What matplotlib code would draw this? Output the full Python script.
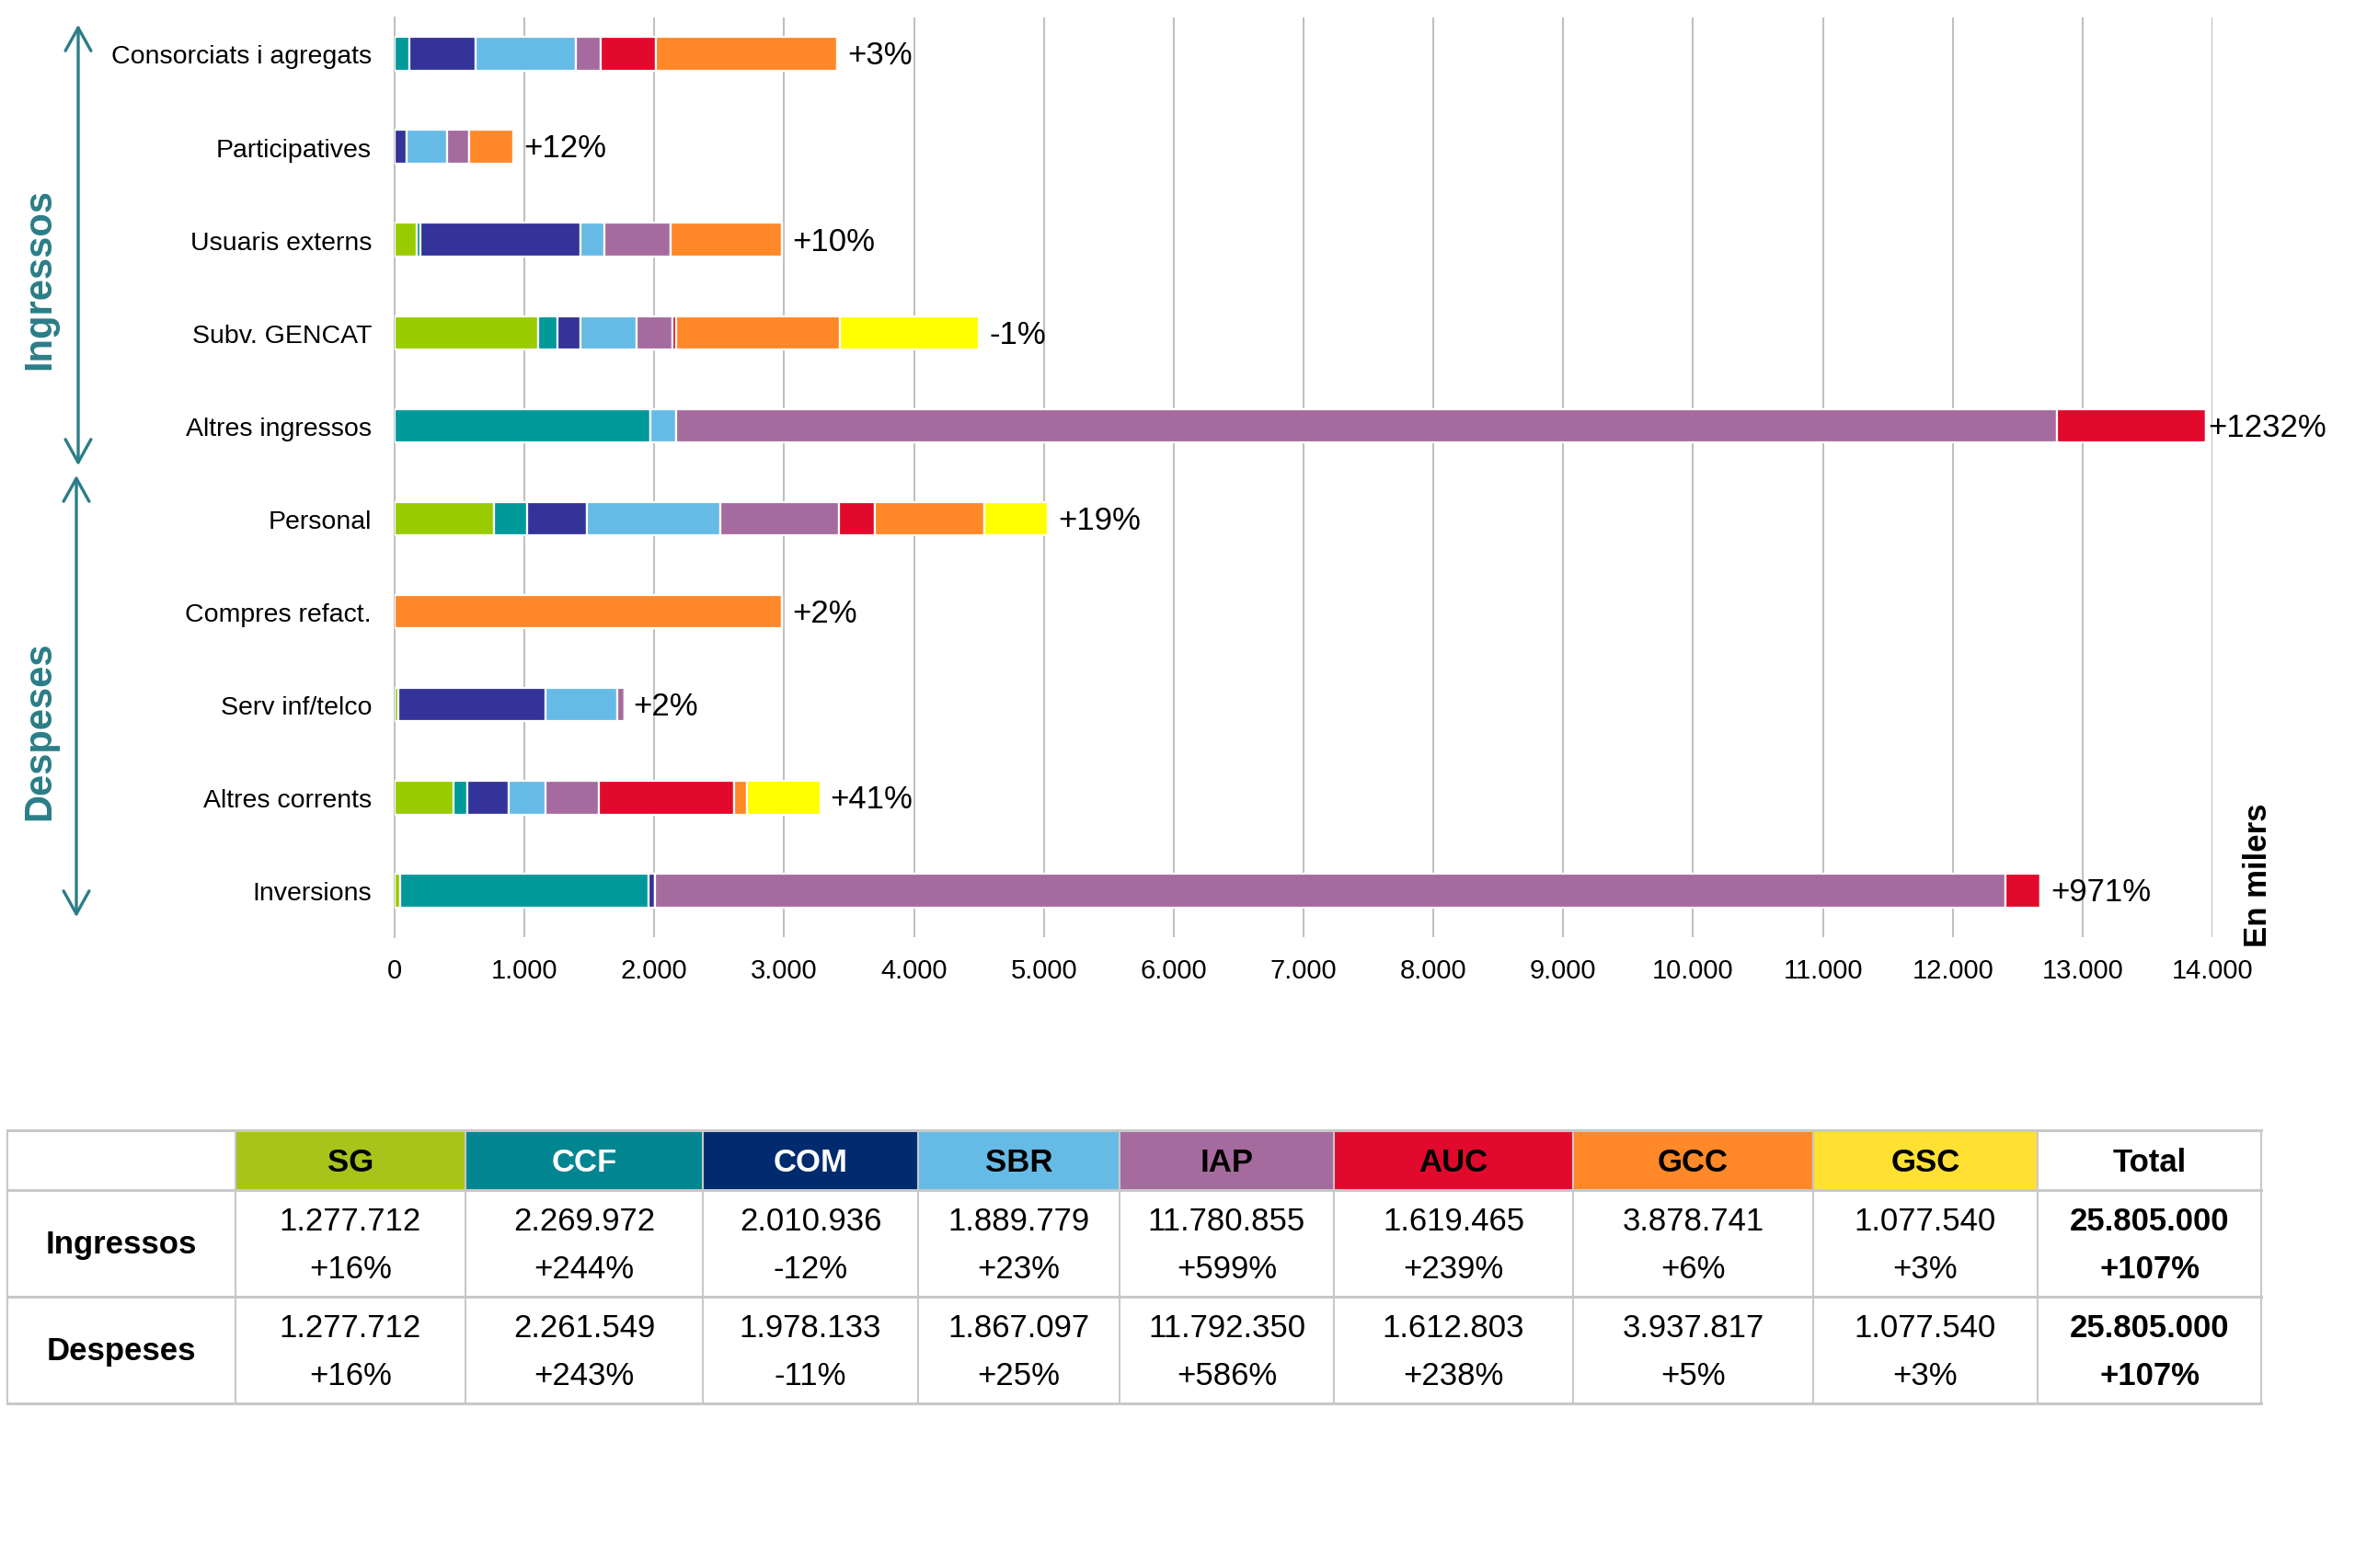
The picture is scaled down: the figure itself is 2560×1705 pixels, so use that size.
#! /usr/bin/env python3

"""
Ingressos i despeses per centre (en milers), barres apilades + taula resum
"""

import numpy as np
import matplotlib
matplotlib.use("Agg")
import matplotlib.pyplot as plt
from matplotlib.patches import Rectangle, FancyArrowPatch
from matplotlib.ticker import FuncFormatter

plt.rcParams['font.family'] = ['Liberation Sans', 'DejaVu Sans']

CATEGORIES = ["Consorciats i agregats", "Participatives", "Usuaris externs",
              "Subv. GENCAT", "Altres ingressos", "Personal", "Compres refact.",
              "Serv inf/telco", "Altres corrents", "Inversions"]
CHANGE_LABELS = ["+3%", "+12%", "+10%", "-1%", "+1232%",
                 "+19%", "+2%", "+2%", "+41%", "+971%"]

GROUPS = ["SG", "CCF", "COM", "SBR", "IAP", "AUC", "GCC", "GSC"]
# values in thousands, one per category
SG  = [0,    0,   170,  1105, 0,     765,  0,    25,   451,  45]
CCF = [115,  0,   29,   151,  1971,  253,  0,    0,    109,  1908]
COM = [510,  90,  1234, 174,  0,     462,  0,    1134, 317,  51]
SBR = [768,  314, 181,  436,  199,   1025, 0,    556,  282,  0]
IAP = [195,  170, 515,  275,  10636, 917,  0,    54,   411,  10402]
AUC = [423,  0,   0,    29,   1143,  278,  0,    0,    1047, 272]
GCC = [1397, 339, 854,  1260, 0,     838,  2986, 0,    94,   0]
GSC = [0,    0,   0,    1072, 0,     491,  0,    0,    571,  0]

# summary table
INGRESSOS = [1277712, 2269972, 2010936, 1889779, 11780855, 1619465, 3878741, 1077540]
INGRESSOS_PCT = ["+16%", "+244%", "-12%", "+23%", "+599%", "+239%", "+6%", "+3%"]
DESPESES = [1277712, 2261549, 1978133, 1867097, 11792350, 1612803, 3937817, 1077540]
DESPESES_PCT = ["+16%", "+243%", "-11%", "+25%", "+586%", "+238%", "+5%", "+3%"]
TOTALS = [25805000, 25805000]
TOTALS_PCT = ["+107%", "+107%"]

BAR_COLORS = ["#99CC00", "#009999", "#333399", "#66BBE6",
              "#A66B9E", "#E10A2C", "#FF8828", "#FFFF00"]
HEAD_COLORS = ["#A8C31A", "#008591", "#002B6E", "#66BBE6",
               "#A66B9E", "#E10A2C", "#FF8828", "#FFE033"]
HEAD_TEXT = ["black", "white", "white", "black", "black", "black", "black", "black"]
TEAL = "#2B7D87"
W, H = 2560, 1706


def dots(v):
    return f"{v:,}".replace(",", ".")


fig = plt.figure(figsize=(W / 100, H / 100), dpi=100)

#    bar chart
ax = fig.add_axes([429 / W, 1 - 1020 / H, (2405 - 429) / W, (1020 - 20) / H])
series = [SG, CCF, COM, SBR, IAP, AUC, GCC, GSC]
y = np.arange(len(CATEGORIES))
left = np.zeros(len(CATEGORIES))
for vals, col in zip(series, BAR_COLORS):
    vals = np.array(vals, dtype=float)
    ax.barh(y, vals, left=left, height=0.36, color=col,
            edgecolor="white", linewidth=1.6, zorder=3)
    left += vals

# label gap after the bar end (the long one sits almost on the bar)
label_gap = [8, 8, 8, 8, 2, 8, 8, 7, 7, 8]
for yi, tot, lab, gap in zip(y, left, CHANGE_LABELS, label_gap):
    ax.annotate(lab, (tot, yi), xytext=(gap, -1), textcoords="offset points",
                va="center", ha="left", fontsize=25, zorder=4)

ax.set_xlim(0, 14000)
ax.set_ylim(9.5, -0.39)
ax.set_xticks(np.arange(0, 14001, 1000))
ax.xaxis.set_major_formatter(FuncFormatter(lambda v, p: dots(int(v))))
ax.set_yticks(y)
ax.set_yticklabels(CATEGORIES)
ax.tick_params(axis="y", length=0, pad=18, labelsize=20.5)
ax.tick_params(axis="x", length=0, pad=16, labelsize=21)
ax.grid(axis="x", color="#C0C0C0", linewidth=1.5, zorder=0)
for s in ["top", "right", "bottom"]:
    ax.spines[s].set_visible(False)
ax.spines["left"].set_color("#C0C0C0")
ax.spines["left"].set_linewidth(1.5)

fig.text(2455 / W, 1 - 1030 / H, "En milers", rotation=90, fontsize=25,
         fontweight="bold", ha="center", va="bottom")

# side arrows + section names
for (x, y0, y1), name, ty in [((85, 25, 510), "Ingressos", 303),
                              ((83, 515, 1001), "Despeses", 795)]:
    arr = FancyArrowPatch((x / W, 1 - y0 / H), (x / W, 1 - y1 / H),
                          transform=fig.transFigure,
                          arrowstyle="<->,head_length=18,head_width=10",
                          mutation_scale=1, color=TEAL, linewidth=2.4)
    fig.add_artist(arr)
    fig.text(43 / W, 1 - ty / H, name, rotation=90, fontsize=30,
             fontweight="bold", color=TEAL, ha="center", va="center")

#    table, drawn in pixel coordinates
tx = fig.add_axes([0, 0, 1, 1])
tx.set_xlim(0, W)
tx.set_ylim(H, 0)
tx.axis("off")

cols = [8, 256, 506, 764, 998, 1217, 1450, 1710, 1971, 2215, 2458]
rows = [1230, 1295, 1411, 1527]
grid_col = "#C8C8C8"

for i, g in enumerate(GROUPS):
    tx.add_patch(Rectangle((cols[i + 1], rows[0]), cols[i + 2] - cols[i + 1],
                           rows[1] - rows[0], facecolor=HEAD_COLORS[i], edgecolor="none"))
    tx.text((cols[i + 1] + cols[i + 2]) / 2, (rows[0] + rows[1]) / 2 + 2, g,
            ha="center", va="center", fontsize=25, fontweight="bold", color=HEAD_TEXT[i])
tx.text((cols[-2] + cols[-1]) / 2, (rows[0] + rows[1]) / 2 + 2, "Total",
        ha="center", va="center", fontsize=25, fontweight="bold")

for xc in cols:
    tx.plot([xc, xc], [rows[0], rows[-1]], color=grid_col, lw=1.5)
for yr in rows:
    tx.plot([cols[0], cols[-1]], [yr, yr], color=grid_col, lw=2.2)

table_rows = [("Ingressos", INGRESSOS, INGRESSOS_PCT),
              ("Despeses", DESPESES, DESPESES_PCT)]
for r, (name, vals, pcts) in enumerate(table_rows):
    ymid = (rows[r + 1] + rows[r + 2]) / 2
    tx.text((cols[0] + cols[1]) / 2, ymid, name, ha="center", va="center",
            fontsize=25, fontweight="bold")
    for i in range(len(GROUPS)):
        xc = (cols[i + 1] + cols[i + 2]) / 2
        tx.text(xc, ymid - 25, dots(vals[i]), ha="center", va="center", fontsize=25)
        tx.text(xc, ymid + 27, pcts[i], ha="center", va="center", fontsize=25)
    xc = (cols[-2] + cols[-1]) / 2
    tx.text(xc, ymid - 25, dots(TOTALS[r]), ha="center", va="center",
            fontsize=25, fontweight="bold")
    tx.text(xc, ymid + 27, TOTALS_PCT[r], ha="center", va="center",
            fontsize=25, fontweight="bold")

fig.savefig("out.png", dpi=100, facecolor="white")
